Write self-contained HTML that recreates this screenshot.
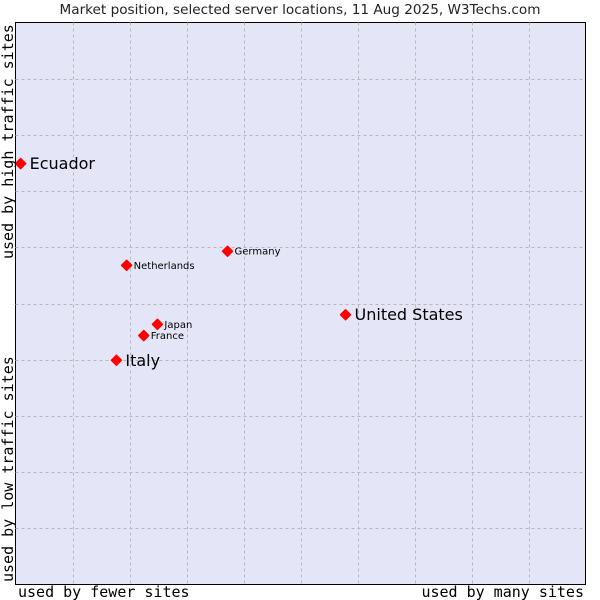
<!DOCTYPE html>
<html><head><meta charset="utf-8"><style>
body{margin:0;background:#fff;}
svg{display:block;font-family:"DejaVu Sans","Liberation Sans",sans-serif;}
.mono{font-family:"DejaVu Sans Mono","Liberation Mono",monospace;}
</style></head><body>
<svg id="chart" width="600" height="600">
<text x="300" y="14" text-anchor="middle" font-size="13.6" fill="#222">Market position, selected server locations, 11 Aug 2025, W3Techs.com</text>
<rect x="15.5" y="22.5" width="570" height="562" fill="#e4e6f8" stroke="#000" stroke-width="1"/>
<g id="grid"></g>
<g id="points"></g>
<text class="mono" x="18" y="597" font-size="15">used by fewer sites</text>
<text class="mono" x="584" y="597" font-size="15" text-anchor="end">used by many sites</text>
<text class="mono" transform="translate(13,259) rotate(-90)" font-size="15">used by high traffic sites</text>
<text class="mono" transform="translate(13,582) rotate(-90)" font-size="15">used by low traffic sites</text>
</svg>
<script>
const countries=["Ecuador","Netherlands","Germany","United States","Japan","France","Italy"];
const xValues=[0.09,1.95,3.72,5.79,2.49,2.25,1.77];
const yValues=[7.49,5.68,5.93,4.80,4.63,4.43,3.99];
const bigLabel=[true,false,false,true,false,false,true];
const L=15.5,T=22.5,W=570,H=562;
const xs=v=>L+v/10*W, ys=v=>T+H-v/10*H;
const NS="http://www.w3.org/2000/svg";
const grid=document.getElementById('grid'),pts=document.getElementById('points');
for(let i=1;i<10;i++){
 let l=document.createElementNS(NS,'line');
 
 
 let x=Math.round(xs(i))+0.5;
 l.setAttribute('x1',x);l.setAttribute('x2',x);l.setAttribute('y1',T);l.setAttribute('y2',T+H);
 l.setAttribute('stroke','#b8b8b8');l.setAttribute('stroke-dasharray','3,3');grid.appendChild(l);
 let m=document.createElementNS(NS,'line');
 
 
 let y=Math.round(ys(i))+0.5;
 m.setAttribute('y1',y);m.setAttribute('y2',y);m.setAttribute('x1',L);m.setAttribute('x2',L+W);
 m.setAttribute('stroke','#b8b8b8');m.setAttribute('stroke-dasharray','3,3');grid.appendChild(m);
}
countries.forEach((c,i)=>{
 const x=xs(xValues[i]),y=ys(yValues[i]);
 const p=document.createElementNS(NS,'polygon');
 
 
 p.setAttribute('points',`${x},${y-5} ${x+5},${y} ${x},${y+5} ${x-5},${y}`);
 p.setAttribute('fill','#f00');p.setAttribute('stroke','#f00');p.setAttribute('stroke-linejoin','round');p.setAttribute('stroke-width','1.5');pts.appendChild(p);
 const t=document.createElementNS(NS,'text');
 
 
 t.setAttribute('x',x+(bigLabel[i]?9:7));t.setAttribute('y',y+(bigLabel[i]?5.5:3.5));
 t.setAttribute('font-size',bigLabel[i]?16:10);t.textContent=c;pts.appendChild(t);
});
</script>
</body></html>
